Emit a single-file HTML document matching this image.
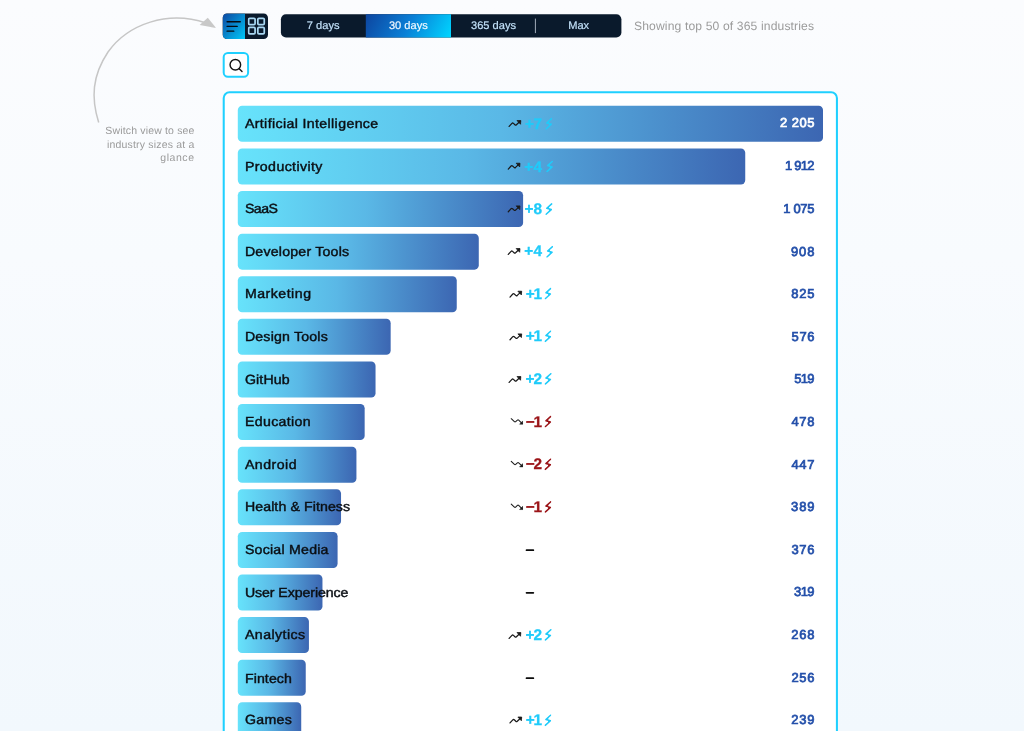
<!DOCTYPE html>
<html lang="en"><head><meta charset="utf-8"><title>Industries</title>
<style>
html,body{margin:0;padding:0;}
body{width:1024px;height:731px;overflow:hidden;background:linear-gradient(180deg,#fbfcfe 0%,#f8fbfe 35%,#f2f8fd 100%);font-family:"Liberation Sans",sans-serif;position:relative;text-rendering:geometricPrecision;}
#stage{position:absolute;left:0;top:0;width:1200px;height:857px;transform:scale(0.853333);transform-origin:0 0;}
.toggle{position:absolute;left:261.3px;top:15.8px;width:53px;height:30.1px;border-radius:5px;overflow:hidden;}
.toggle .l{display:none;}
.toggle svg{position:absolute;}
.sel{position:absolute;left:328.8px;top:16.65px;width:399.2px;height:27.4px;border-radius:6px;overflow:hidden;color:#c2e1f9;font-size:13px;-webkit-text-stroke:0.2px #c2e1f9;}
.sel div{position:absolute;top:0;height:100%;width:99.8px;text-align:center;line-height:26.6px;}
.sel .act{color:#f2f9ff;-webkit-text-stroke:0.2px #f2f9ff;}
.sel .sep{position:absolute;left:298.3px;top:5.2px;width:1.1px;height:17px;display:none;}
.info{position:absolute;left:743px;top:18.6px;font-size:14.2px;color:#9b9b9b;line-height:24px;white-space:nowrap;letter-spacing:0.164px;}
.search{position:absolute;left:261.3px;top:60.7px;width:30.5px;height:30.5px;}
.search i{position:absolute;left:2.3px;top:2.3px;right:2.3px;bottom:2.3px;display:none;}
.search svg{position:absolute;left:6.6px;top:7.1px;width:18px;height:18px;}
.panel{position:absolute;left:261.3px;top:106.5px;width:720px;height:800px;}
.pin{position:absolute;left:2.4px;top:2.4px;right:2.4px;bottom:0;}
.row{position:absolute;left:15.4px;width:684.5px;height:42.7px;}
.bar{position:absolute;left:0;top:0;height:42.7px;display:none;}
.name{position:absolute;left:8px;top:2.0px;line-height:39px;font-size:15.5px;color:#0b0f14;white-space:nowrap;-webkit-text-stroke:0.5px #0b0f14;transform:scaleX(1.07);transform-origin:0 50%;}
.cnt{position:absolute;right:9.2px;top:0;line-height:42.2px;font-size:15.2px;color:#2450aa;white-space:nowrap;-webkit-text-stroke:0.85px #2450aa;}
.first .cnt{color:#fff;-webkit-text-stroke-color:#fff;}
.trend{position:absolute;left:291.8px;width:100px;top:-0.15px;height:42px;display:flex;align-items:center;justify-content:center;}
.trend .tv{position:relative;font-size:18px;font-weight:bold;margin:0 4.1px 0 3.1px;-webkit-text-stroke:0.35px;line-height:20px;}
.up .tv{color:#1fcbfa;}
.down .tv{color:#9b1418;}
.ti{display:block;transform:translateY(0.7px);}
.ti .ln{fill:none;stroke:#1a1a1a;stroke-width:1.25;stroke-linecap:round;stroke-linejoin:round;}
.ti .hd{fill:#1a1a1a;stroke:#1a1a1a;stroke-width:0.8;stroke-linejoin:round;}
.ti.dn .ln{stroke-width:1.05;}
.ti.dn .hd{stroke-width:0.5;}
.bolt{display:block;fill:none;stroke-width:1.5;stroke-linecap:round;stroke-linejoin:round;}
.up .bolt{stroke:#1fcbfa;} .up .bolt .f{fill:#1fcbfa;stroke:none;}
.down .bolt{stroke:#9b1418;} .down .bolt .f{fill:#9b1418;stroke:none;}
.dash{display:block;width:10.4px;height:2.6px;background:#0c0c0c;border-radius:1.2px;transform:translateY(0.7px);}
.note{position:absolute;right:972px;top:144.7px;width:140px;text-align:right;font-size:12.3px;line-height:16.2px;color:#9a9a9a;}
.note span{display:block;white-space:nowrap;}
#bg{position:absolute;left:0;top:0;}
#arrow{position:absolute;left:0;top:0;width:1024px;height:731px;pointer-events:none;}
</style></head>
<body>
<svg id="bg" viewBox="0 0 1024 731" width="1024" height="731">
<defs>
<linearGradient id="gb" x1="0" y1="0" x2="1" y2="0"><stop offset="0" stop-color="#67e3fb"/><stop offset="0.45" stop-color="#5ab8e6"/><stop offset="1" stop-color="#3c66b2"/></linearGradient>
<linearGradient id="gt" x1="0" y1="0" x2="1" y2="1"><stop offset="0" stop-color="#0d47a1"/><stop offset="1" stop-color="#00c8f8"/></linearGradient>
<linearGradient id="gs" gradientUnits="userSpaceOnUse" x1="372" y1="6" x2="445" y2="46"><stop offset="0" stop-color="#0d47a1"/><stop offset="0.5" stop-color="#0a7fd6"/><stop offset="1" stop-color="#00d4ff"/></linearGradient>
<clipPath id="ct"><rect x="222.7" y="13.45" width="45.3" height="25.65" rx="4.3"/></clipPath>
<clipPath id="cs"><rect x="280.9" y="14.2" width="340.5" height="23.35" rx="5.1"/></clipPath>
</defs>
<g clip-path="url(#ct)"><rect x="222" y="13" width="47" height="27" fill="#0a1a2c"/><rect x="222.7" y="13.45" width="22.3" height="25.65" fill="url(#gt)"/></g>
<g clip-path="url(#cs)"><rect x="280" y="14" width="342" height="24" fill="#0a1a2c"/><rect x="365.8" y="14" width="85.2" height="24" fill="url(#gs)"/></g>
<rect x="534.9" y="18.6" width="0.95" height="14.5" fill="#a9b4c0"/>
<rect x="223.7" y="52.9" width="24.4" height="23.9" rx="4.2" fill="#fff" stroke="#1fd0ff" stroke-width="2"/>
<path d="M222.7 740 V98.1 a6.8 6.8 0 0 1 6.8 -6.8 H831.15 a6.8 6.8 0 0 1 6.8 6.8 V740 Z" fill="#1fd0ff"/>
<path d="M224.75 740 V98.1 a4.75 4.75 0 0 1 4.75 -4.75 H831.15 a4.75 4.75 0 0 1 4.75 4.75 V740 Z" fill="#fff"/>
<rect x="237.8" y="105.80" width="585.20" height="36.0" rx="4.3" fill="url(#gb)"/><rect x="237.8" y="148.41" width="507.44" height="36.0" rx="4.3" fill="url(#gb)"/><rect x="237.8" y="191.02" width="285.30" height="36.0" rx="4.3" fill="url(#gb)"/><rect x="237.8" y="233.63" width="240.98" height="36.0" rx="4.3" fill="url(#gb)"/><rect x="237.8" y="276.24" width="218.95" height="36.0" rx="4.3" fill="url(#gb)"/><rect x="237.8" y="318.85" width="152.87" height="36.0" rx="4.3" fill="url(#gb)"/><rect x="237.8" y="361.46" width="137.74" height="36.0" rx="4.3" fill="url(#gb)"/><rect x="237.8" y="404.07" width="126.86" height="36.0" rx="4.3" fill="url(#gb)"/><rect x="237.8" y="446.68" width="118.63" height="36.0" rx="4.3" fill="url(#gb)"/><rect x="237.8" y="489.29" width="103.24" height="36.0" rx="4.3" fill="url(#gb)"/><rect x="237.8" y="531.90" width="99.79" height="36.0" rx="4.3" fill="url(#gb)"/><rect x="237.8" y="574.51" width="84.66" height="36.0" rx="4.3" fill="url(#gb)"/><rect x="237.8" y="617.12" width="71.13" height="36.0" rx="4.3" fill="url(#gb)"/><rect x="237.8" y="659.73" width="67.94" height="36.0" rx="4.3" fill="url(#gb)"/><rect x="237.8" y="702.34" width="63.43" height="36.0" rx="4.3" fill="url(#gb)"/>
</svg>
<div id="stage">
  <div class="toggle">
    <div class="l"></div>
    <svg style="left:3.3px;top:7.5px" width="18" height="16" viewBox="0 0 18 16" fill="none" stroke="#050a10" stroke-width="1.5" stroke-linecap="round"><path d="M1 2.5H16.6M1 8H13M1 13.5H9"/></svg>
    <svg style="left:29px;top:4.6px" width="21.5" height="21.5" viewBox="0 0 20 20" fill="none" stroke="#a9d8f3" stroke-width="1.9"><rect x="1.3" y="1.3" width="7" height="7" rx="1.2"/><rect x="11.3" y="1.3" width="7" height="7" rx="1.2"/><rect x="1.3" y="11.3" width="7" height="7" rx="1.2"/><rect x="11.3" y="11.3" width="7" height="7" rx="1.2"/></svg>
  </div>
  <div class="sel">
    <div style="left:0">7 days</div>
    <div class="act" style="left:99.8px">30 days</div>
    <div style="left:199.6px">365 days</div>
    <span class="sep"></span>
    <div style="left:299.4px">Max</div>
  </div>
  <div class="info">Showing top 50 of 365 industries</div>
  <div class="search"><i></i><svg viewBox="0 0 18 18" fill="none" stroke="#151515" stroke-width="1.7" stroke-linecap="round"><circle cx="7.8" cy="7.9" r="6.2"/><path d="M12.4 12.5L15.6 15.7"/></svg></div>
  <div class="note"><span style="letter-spacing:0.192px">Switch view to see</span><span style="letter-spacing:0.222px">industry sizes at a</span><span style="letter-spacing:0.648px">glance</span></div>
  <div class="panel"><div class="pin">
<div class="row first" style="top:14.9px"><div class="bar" style="width:100.00%"></div><div class="name" style="letter-spacing:0.409px;top:2.00px">Artificial Intelligence</div><div class="trend up"><svg class="ti" style="width:17.58px;height:12.89px" viewBox="0 0 15 11"><path class="ln" d="M1.4 8.1 L4.2 5.0 Q4.9 4.3 5.7 5.0 L7.2 6.4 Q7.9 7.1 8.7 6.4 L12.4 2.9"/><path class="hd" d="M9.3 2.2 L13.1 2.2 L12.8 5.9 Z"/></svg><span class="tv" style="letter-spacing:-0.609px;top:0.00px">+7</span><svg class="bolt" style="width:8.44px;height:14.06px" viewBox="0 0 7.2 12"><path d="M6.4 0.8 L1.5 5.2 L6.0 6.5 L0.8 11.2"/><path class="f" d="M1.5 5.2 L6.0 6.5 L3.6 8.6 L3.9 3.1 Z"/></svg></div><div class="cnt" style="letter-spacing:0.574px;margin-right:-0.574px;top:0.00px">2 205</div></div>
<div class="row" style="top:64.9px"><div class="bar" style="width:86.71%"></div><div class="name" style="letter-spacing:0.433px;top:2.00px">Productivity</div><div class="trend up"><svg class="ti" style="width:17.58px;height:12.89px" viewBox="0 0 15 11"><path class="ln" d="M1.4 8.1 L4.2 5.0 Q4.9 4.3 5.7 5.0 L7.2 6.4 Q7.9 7.1 8.7 6.4 L12.4 2.9"/><path class="hd" d="M9.3 2.2 L13.1 2.2 L12.8 5.9 Z"/></svg><span class="tv" style="letter-spacing:0.445px;top:0.00px">+4</span><svg class="bolt" style="width:8.44px;height:14.06px" viewBox="0 0 7.2 12"><path d="M6.4 0.8 L1.5 5.2 L6.0 6.5 L0.8 11.2"/><path class="f" d="M1.5 5.2 L6.0 6.5 L3.6 8.6 L3.9 3.1 Z"/></svg></div><div class="cnt" style="letter-spacing:-0.900px;margin-right:0.900px;top:0.00px">1 912</div></div>
<div class="row" style="top:114.8px"><div class="bar" style="width:48.75%"></div><div class="name" style="letter-spacing:-0.557px;top:2.00px">SaaS</div><div class="trend up"><svg class="ti" style="width:17.58px;height:12.89px" viewBox="0 0 15 11"><path class="ln" d="M1.4 8.1 L4.2 5.0 Q4.9 4.3 5.7 5.0 L7.2 6.4 Q7.9 7.1 8.7 6.4 L12.4 2.9"/><path class="hd" d="M9.3 2.2 L13.1 2.2 L12.8 5.9 Z"/></svg><span class="tv" style="letter-spacing:0.094px;top:0.00px">+8</span><svg class="bolt" style="width:8.44px;height:14.06px" viewBox="0 0 7.2 12"><path d="M6.4 0.8 L1.5 5.2 L6.0 6.5 L0.8 11.2"/><path class="f" d="M1.5 5.2 L6.0 6.5 L3.6 8.6 L3.9 3.1 Z"/></svg></div><div class="cnt" style="letter-spacing:-0.392px;margin-right:0.392px;top:1.20px">1 075</div></div>
<div class="row" style="top:164.8px"><div class="bar" style="width:41.18%"></div><div class="name" style="letter-spacing:0.233px;top:2.00px">Developer Tools</div><div class="trend up"><svg class="ti" style="width:17.58px;height:12.89px" viewBox="0 0 15 11"><path class="ln" d="M1.4 8.1 L4.2 5.0 Q4.9 4.3 5.7 5.0 L7.2 6.4 Q7.9 7.1 8.7 6.4 L12.4 2.9"/><path class="hd" d="M9.3 2.2 L13.1 2.2 L12.8 5.9 Z"/></svg><span class="tv" style="letter-spacing:0.445px;top:-0.60px">+4</span><svg class="bolt" style="width:8.44px;height:14.06px" viewBox="0 0 7.2 12"><path d="M6.4 0.8 L1.5 5.2 L6.0 6.5 L0.8 11.2"/><path class="f" d="M1.5 5.2 L6.0 6.5 L3.6 8.6 L3.9 3.1 Z"/></svg></div><div class="cnt" style="letter-spacing:1.100px;margin-right:-1.100px;top:1.20px">908</div></div>
<div class="row" style="top:214.7px"><div class="bar" style="width:37.41%"></div><div class="name" style="letter-spacing:0.541px;top:1.40px">Marketing</div><div class="trend up"><svg class="ti" style="width:17.58px;height:12.89px" viewBox="0 0 15 11"><path class="ln" d="M1.4 8.1 L4.2 5.0 Q4.9 4.3 5.7 5.0 L7.2 6.4 Q7.9 7.1 8.7 6.4 L12.4 2.9"/><path class="hd" d="M9.3 2.2 L13.1 2.2 L12.8 5.9 Z"/></svg><span class="tv" style="letter-spacing:-1.500px;top:0.00px">+1</span><svg class="bolt" style="width:8.44px;height:14.06px" viewBox="0 0 7.2 12"><path d="M6.4 0.8 L1.5 5.2 L6.0 6.5 L0.8 11.2"/><path class="f" d="M1.5 5.2 L6.0 6.5 L3.6 8.6 L3.9 3.1 Z"/></svg></div><div class="cnt" style="letter-spacing:0.862px;margin-right:-0.862px;top:0.00px">825</div></div>
<div class="row" style="top:264.6px"><div class="bar" style="width:26.12%"></div><div class="name" style="letter-spacing:0.202px;top:2.60px">Design Tools</div><div class="trend up"><svg class="ti" style="width:17.58px;height:12.89px" viewBox="0 0 15 11"><path class="ln" d="M1.4 8.1 L4.2 5.0 Q4.9 4.3 5.7 5.0 L7.2 6.4 Q7.9 7.1 8.7 6.4 L12.4 2.9"/><path class="hd" d="M9.3 2.2 L13.1 2.2 L12.8 5.9 Z"/></svg><span class="tv" style="letter-spacing:-1.500px;top:0.00px">+1</span><svg class="bolt" style="width:8.44px;height:14.06px" viewBox="0 0 7.2 12"><path d="M6.4 0.8 L1.5 5.2 L6.0 6.5 L0.8 11.2"/><path class="f" d="M1.5 5.2 L6.0 6.5 L3.6 8.6 L3.9 3.1 Z"/></svg></div><div class="cnt" style="letter-spacing:0.687px;margin-right:-0.687px;top:1.20px">576</div></div>
<div class="row" style="top:314.6px"><div class="bar" style="width:23.54%"></div><div class="name" style="letter-spacing:0.163px;top:2.60px">GitHub</div><div class="trend up"><svg class="ti" style="width:17.58px;height:12.89px" viewBox="0 0 15 11"><path class="ln" d="M1.4 8.1 L4.2 5.0 Q4.9 4.3 5.7 5.0 L7.2 6.4 Q7.9 7.1 8.7 6.4 L12.4 2.9"/><path class="hd" d="M9.3 2.2 L13.1 2.2 L12.8 5.9 Z"/></svg><span class="tv" style="letter-spacing:-1.195px;top:0.00px">+2</span><svg class="bolt" style="width:8.44px;height:14.06px" viewBox="0 0 7.2 12"><path d="M6.4 0.8 L1.5 5.2 L6.0 6.5 L0.8 11.2"/><path class="f" d="M1.5 5.2 L6.0 6.5 L3.6 8.6 L3.9 3.1 Z"/></svg></div><div class="cnt" style="letter-spacing:-0.899px;margin-right:0.899px;top:0.60px">519</div></div>
<div class="row" style="top:364.5px"><div class="bar" style="width:21.68%"></div><div class="name" style="letter-spacing:0.389px;top:2.00px">Education</div><div class="trend down"><svg class="ti dn" style="width:17.58px;height:12.89px" viewBox="0 0 15 11"><path class="ln" d="M2.65 1.7 L5.8 4.7 Q6.45 5.3 7.1 4.7 L8.8 3.1 Q9.45 2.5 10.1 3.1 L13.6 6.5"/><path class="hd" d="M11.0 7.2 L14.3 7.2 L14.2 3.9 Z"/></svg><span class="tv" style="letter-spacing:-1.500px;top:-0.60px">−1</span><svg class="bolt" style="width:8.44px;height:14.06px" viewBox="0 0 7.2 12"><path d="M6.4 0.8 L1.5 5.2 L6.0 6.5 L0.8 11.2"/><path class="f" d="M1.5 5.2 L6.0 6.5 L3.6 8.6 L3.9 3.1 Z"/></svg></div><div class="cnt" style="letter-spacing:0.803px;margin-right:-0.803px;top:0.60px">478</div></div>
<div class="row" style="top:414.4px"><div class="bar" style="width:20.27%"></div><div class="name" style="letter-spacing:0.513px;top:2.60px">Android</div><div class="trend down"><svg class="ti dn" style="width:17.58px;height:12.89px" viewBox="0 0 15 11"><path class="ln" d="M2.65 1.7 L5.8 4.7 Q6.45 5.3 7.1 4.7 L8.8 3.1 Q9.45 2.5 10.1 3.1 L13.6 6.5"/><path class="hd" d="M11.0 7.2 L14.3 7.2 L14.2 3.9 Z"/></svg><span class="tv" style="letter-spacing:-1.500px;top:0.00px">−2</span><svg class="bolt" style="width:8.44px;height:14.06px" viewBox="0 0 7.2 12"><path d="M6.4 0.8 L1.5 5.2 L6.0 6.5 L0.8 11.2"/><path class="f" d="M1.5 5.2 L6.0 6.5 L3.6 8.6 L3.9 3.1 Z"/></svg></div><div class="cnt" style="letter-spacing:0.803px;margin-right:-0.803px;top:1.80px">447</div></div>
<div class="row" style="top:464.4px"><div class="bar" style="width:17.64%"></div><div class="name" style="letter-spacing:0.099px;top:2.00px">Health & Fitness</div><div class="trend down"><svg class="ti dn" style="width:17.58px;height:12.89px" viewBox="0 0 15 11"><path class="ln" d="M2.65 1.7 L5.8 4.7 Q6.45 5.3 7.1 4.7 L8.8 3.1 Q9.45 2.5 10.1 3.1 L13.6 6.5"/><path class="hd" d="M11.0 7.2 L14.3 7.2 L14.2 3.9 Z"/></svg><span class="tv" style="letter-spacing:-1.500px;top:-0.60px">−1</span><svg class="bolt" style="width:8.44px;height:14.06px" viewBox="0 0 7.2 12"><path d="M6.4 0.8 L1.5 5.2 L6.0 6.5 L0.8 11.2"/><path class="f" d="M1.5 5.2 L6.0 6.5 L3.6 8.6 L3.9 3.1 Z"/></svg></div><div class="cnt" style="letter-spacing:0.980px;margin-right:-0.980px;top:0.60px">389</div></div>
<div class="row" style="top:514.3px"><div class="bar" style="width:17.05%"></div><div class="name" style="letter-spacing:0.255px;top:2.00px">Social Media</div><div class="trend none"><span class="dash"></span></div><div class="cnt" style="letter-spacing:0.803px;margin-right:-0.803px;top:0.60px">376</div></div>
<div class="row" style="top:564.2px"><div class="bar" style="width:14.47%"></div><div class="name" style="letter-spacing:-0.088px;top:2.60px">User Experience</div><div class="trend none"><span class="dash"></span></div><div class="cnt" style="letter-spacing:-0.775px;margin-right:0.775px;top:0.00px">319</div></div>
<div class="row" style="top:614.2px"><div class="bar" style="width:12.15%"></div><div class="name" style="letter-spacing:0.501px;top:2.00px">Analytics</div><div class="trend up"><svg class="ti" style="width:17.58px;height:12.89px" viewBox="0 0 15 11"><path class="ln" d="M1.4 8.1 L4.2 5.0 Q4.9 4.3 5.7 5.0 L7.2 6.4 Q7.9 7.1 8.7 6.4 L12.4 2.9"/><path class="hd" d="M9.3 2.2 L13.1 2.2 L12.8 5.9 Z"/></svg><span class="tv" style="letter-spacing:-1.195px;top:0.00px">+2</span><svg class="bolt" style="width:8.44px;height:14.06px" viewBox="0 0 7.2 12"><path d="M6.4 0.8 L1.5 5.2 L6.0 6.5 L0.8 11.2"/><path class="f" d="M1.5 5.2 L6.0 6.5 L3.6 8.6 L3.9 3.1 Z"/></svg></div><div class="cnt" style="letter-spacing:0.924px;margin-right:-0.924px;top:0.60px">268</div></div>
<div class="row" style="top:664.1px"><div class="bar" style="width:11.61%"></div><div class="name" style="letter-spacing:0.105px;top:2.60px">Fintech</div><div class="trend none"><span class="dash"></span></div><div class="cnt" style="letter-spacing:0.803px;margin-right:-0.803px;top:0.60px">256</div></div>
<div class="row" style="top:714.0px"><div class="bar" style="width:10.84%"></div><div class="name" style="letter-spacing:0.378px;top:2.00px">Games</div><div class="trend up"><svg class="ti" style="width:17.58px;height:12.89px" viewBox="0 0 15 11"><path class="ln" d="M1.4 8.1 L4.2 5.0 Q4.9 4.3 5.7 5.0 L7.2 6.4 Q7.9 7.1 8.7 6.4 L12.4 2.9"/><path class="hd" d="M9.3 2.2 L13.1 2.2 L12.8 5.9 Z"/></svg><span class="tv" style="letter-spacing:-1.500px;top:0.00px">+1</span><svg class="bolt" style="width:8.44px;height:14.06px" viewBox="0 0 7.2 12"><path d="M6.4 0.8 L1.5 5.2 L6.0 6.5 L0.8 11.2"/><path class="f" d="M1.5 5.2 L6.0 6.5 L3.6 8.6 L3.9 3.1 Z"/></svg></div><div class="cnt" style="letter-spacing:0.924px;margin-right:-0.924px;top:0.00px">239</div></div>
  </div></div>
</div>
<svg id="arrow" viewBox="0 0 1024 731"><path d="M98.7 122.4 C91 98 92 76 108 52 C128 24 168 10 206 23" fill="none" stroke="#c6c6c6" stroke-width="1.5"/><path d="M216.1 28.1 L207.8 17.8 L199.6 24.9 Z" fill="#c8c8c8"/></svg>
</body></html>
